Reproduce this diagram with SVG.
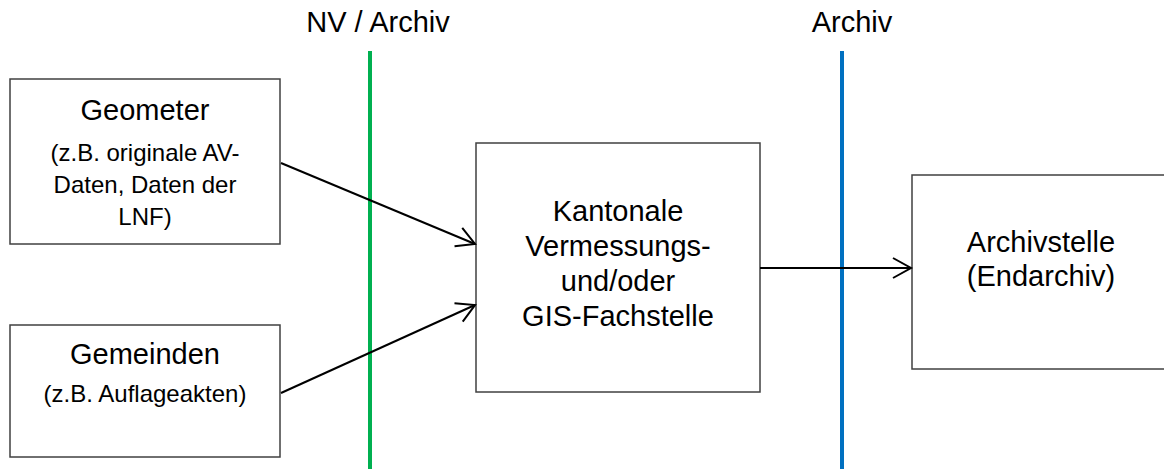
<svg xmlns="http://www.w3.org/2000/svg" width="1164" height="469" viewBox="0 0 1164 469">
<style>
text{font-family:"Liberation Sans",Arial,sans-serif;fill:#000;text-anchor:middle}
.t{font-size:29px}
.s{font-size:24px}
.box{fill:#fff;stroke:#404040;stroke-width:1.5}
.con{stroke:#000;stroke-width:2;fill:none;marker-end:url(#arr)}
</style>
<defs>
<marker id="arr" markerUnits="userSpaceOnUse" markerWidth="24" markerHeight="24" viewBox="-20 -12 22 24" refX="0" refY="0" orient="auto">
<path d="M-18,-10 L0,0 L-18,10" fill="none" stroke="#000" stroke-width="2"/>
</marker>
</defs>
<g id="lanes">
<line x1="370" y1="51" x2="370" y2="469" stroke="#00B050" stroke-width="4"/>
<line x1="842" y1="51" x2="842" y2="469" stroke="#0070C0" stroke-width="4"/>
<text class="t" x="378" y="32">NV / Archiv</text>
<text class="t" x="852" y="32">Archiv</text>
</g>
<g id="geometer">
<rect class="box" x="10" y="79" width="270" height="165"/>
<text class="t" x="145" y="120">Geometer</text>
<text class="s" x="145" y="161">(z.B. originale AV-</text>
<text class="s" x="145" y="193">Daten, Daten der</text>
<text class="s" x="145" y="225">LNF)</text>
</g>
<g id="gemeinden">
<rect class="box" x="10" y="325" width="270" height="132"/>
<text class="t" x="145" y="364">Gemeinden</text>
<text class="s" x="145" y="402">(z.B. Auflageakten)</text>
</g>
<g id="kantonale">
<rect class="box" x="476" y="143" width="284" height="249"/>
<text class="t" x="618" y="221">Kantonale</text>
<text class="t" x="618" y="256">Vermessungs-</text>
<text class="t" x="618" y="291">und/oder</text>
<text class="t" x="618" y="326">GIS-Fachstelle</text>
</g>
<g id="archivstelle">
<rect class="box" x="912" y="175" width="260" height="194"/>
<text class="t" x="1041" y="252">Archivstelle</text>
<text class="t" x="1041" y="286">(Endarchiv)</text>
</g>
<g id="connectors">
<path class="con" d="M281,163 L475,244"/>
<path class="con" d="M281,393 L475,305"/>
<path class="con" d="M760,268 L911,268"/>
</g>
</svg>
